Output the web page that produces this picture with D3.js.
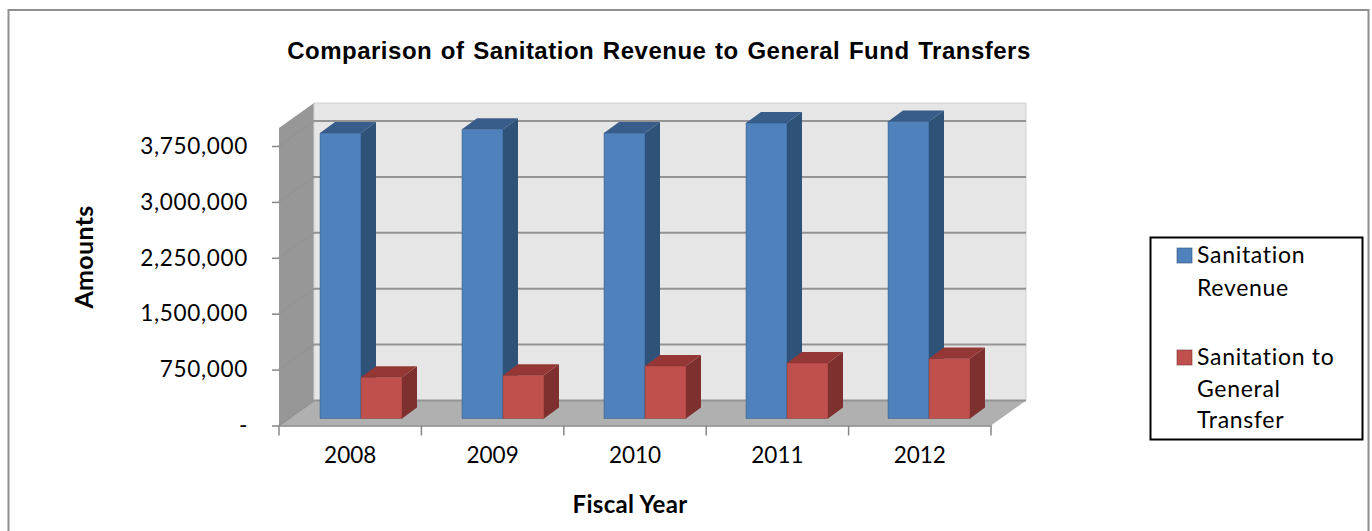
<!DOCTYPE html>
<html>
<head>
<meta charset="utf-8">
<script src="https://cdn.jsdelivr.net/npm/d3@7"></script>
<style>
	html, body { margin: 0; padding: 0; background: #fff; overflow: hidden; }
	text { font-family: Lato, "Open Sans", sans-serif; fill: #000; }
</style>
</head>
<body>
<div class="container"></div>
<script>
var years = ["2008","2009","2010","2011","2012"];
var revenue = [3830000,3880000,3830000,3965000,3985000];
var transfer = [555000,580000,705000,745000,805000];
var yTicks = [0,750000,1500000,2250000,3000000,3750000];
var legendLines = [["Sanitation","Revenue"],["Sanitation to","General","Transfer"]];
var front = ["#4f81bd","#c0504d"];
var tops = ["#385d8a","#953735"];
var sides = ["#2f5279","#7d302e"];

var svg = d3.select('.container').append('svg')
	.attr("width", 1372)
	.attr("height", 531);

var x = d3.scaleBand().domain(years).range([279,991]);
var y = d3.scaleLinear().domain([0,3750000]).range([425.5,146]);
// bars stand a little further back, so their band is a bit narrower than the axis
var barX = d3.scaleBand().domain(years).range([290,1000]);
var inner = d3.scaleBand().domain([0,1]).range([30,112]);

// chart frame, right and bottom edges run off the picture
svg.append('rect').attr("x",8.5).attr("y",10).attr("width",1360).attr("height",530)
	.attr("fill","#fff").attr("stroke","#8e8e8e").attr("stroke-width",2);

// how far the back wall sits from the axis plane
var wallDx = 35, wallDy = -25;
var barDy = -7;
var boxDx = 15, boxDy = -11;

var poly = function(pts,fill){
	return svg.append('polygon')
		.attr("points",pts.map(function(p){return p.join(",")}).join(" "))
		.attr("fill",fill);
};

var x0 = x.range()[0], x1 = x.range()[1], y0 = y(0), yTop = y(3750000);

// walls and floor
poly([[x0,yTop-18],[x0+wallDx,yTop-18+wallDy],[x0+wallDx,y0+wallDy],[x0,y0]],"#979797");
poly([[x0+wallDx,yTop-18+wallDy],[x1+wallDx,yTop-18+wallDy],[x1+wallDx,y0+wallDy],[x0+wallDx,y0+wallDy]],"#e6e6e6")
	.attr("stroke","#d0d0d0").attr("stroke-width",1);
poly([[x0,y0],[x0+wallDx,y0+wallDy],[x1+wallDx,y0+wallDy],[x1,y0]],"#b0b0b0");

// gridlines across both walls
svg.append('g').selectAll('polyline').data(yTicks).enter()
	.append('polyline')
	.attr("points",function(d){
		var p = y(d);
		return [x0,p].join(",")+" "+[x0+wallDx,p+wallDy].join(",")+" "+[x1+wallDx,p+wallDy].join(",");
	})
	.attr("fill","none")
	.attr("stroke","#949494")
	.attr("stroke-width",2);

// bars
var drawBar = function(year,value,s){
	var left = barX(year)+inner(s);
	var right = left+inner.bandwidth();
	var base = y(0)+barDy;
	var top = base-(y(0)-y(value));
	poly([[right,top],[right+boxDx,top+boxDy],[right+boxDx,base+boxDy],[right,base]],sides[s]);
	poly([[left,top],[left+boxDx,top+boxDy],[right+boxDx,top+boxDy],[right,top]],tops[s]);
	poly([[left,top],[right,top],[right,base],[left,base]],front[s])
		.attr("stroke",sides[s]).attr("stroke-opacity",0.45).attr("stroke-width",1);
};
years.forEach(function(year,i){
	drawBar(year,revenue[i],0);
	drawBar(year,transfer[i],1);
});

// axes
var yAxis = d3.axisLeft(y).tickValues(yTicks)
	.tickFormat(function(d){return d==0?"-":d3.format(",")(d)})
	.tickSize(7).tickPadding(24);
var yG = svg.append('g').attr("transform","translate("+x0+",0)").call(yAxis);
yG.select('.domain').remove();
yG.selectAll('line').attr("stroke","#868686").attr("stroke-width",1.5);
yG.selectAll('text').style("font-size","22.5px").style("font-family","Lato").style("letter-spacing","0.7px").attr("fill","#000");

var xAxis = d3.axisBottom(x).tickSize(0).tickPadding(22);
var xG = svg.append('g').attr("transform","translate(0,"+y0+")").call(xAxis);
xG.select('.domain').attr("stroke","#868686").attr("stroke-width",1.5);
xG.selectAll('text').style("font-size","22.5px").style("font-family","Lato").attr("fill","#000");
svg.append('g').selectAll('line').data(d3.range(years.length+1)).enter()
	.append('line')
	.attr("x1",function(d){return x0+d*x.step()})
	.attr("x2",function(d){return x0+d*x.step()})
	.attr("y1",y0)
	.attr("y2",y0+10)
	.attr("stroke","#868686")
	.attr("stroke-width",1.5);

// titles
svg.append('text').text("Comparison of Sanitation Revenue to General Fund Transfers")
	.attr("x",659).attr("y",59).attr("text-anchor","middle")
	.style("font-family","'Liberation Sans'").style("font-weight","bold").style("font-size","24px")
	.style("letter-spacing","0.5px").style("word-spacing","1.5px");
svg.append('text').text("Fiscal Year")
	.attr("x",630).attr("y",513).attr("text-anchor","middle")
	.style("font-weight","bold").style("font-size","24px").style("letter-spacing","0.3px");
svg.append('text').text("Amounts")
	.attr("transform","translate(93,257) rotate(-90)").attr("text-anchor","middle")
	.style("font-weight","bold").style("font-size","25px").style("letter-spacing","0.3px");

// legend
svg.append('rect').attr("x",1150.5).attr("y",237.5).attr("width",212).attr("height",202)
	.attr("fill","#fff").attr("stroke","#000").attr("stroke-width",2);
var legendY = [[263,296],[365,397,428]];
legendLines.forEach(function(lines,s){
	svg.append('rect')
		.attr("x",1177).attr("y",legendY[s][0]-15).attr("width",15).attr("height",15)
		.attr("fill",front[s]).attr("stroke",sides[s]).attr("stroke-opacity",0.6);
	lines.forEach(function(line,i){
		svg.append('text').text(line)
			.attr("x",1197).attr("y",legendY[s][i])
			.style("font-size","23px").style("letter-spacing","0.7px");
	});
});
</script>
</body>
</html>
